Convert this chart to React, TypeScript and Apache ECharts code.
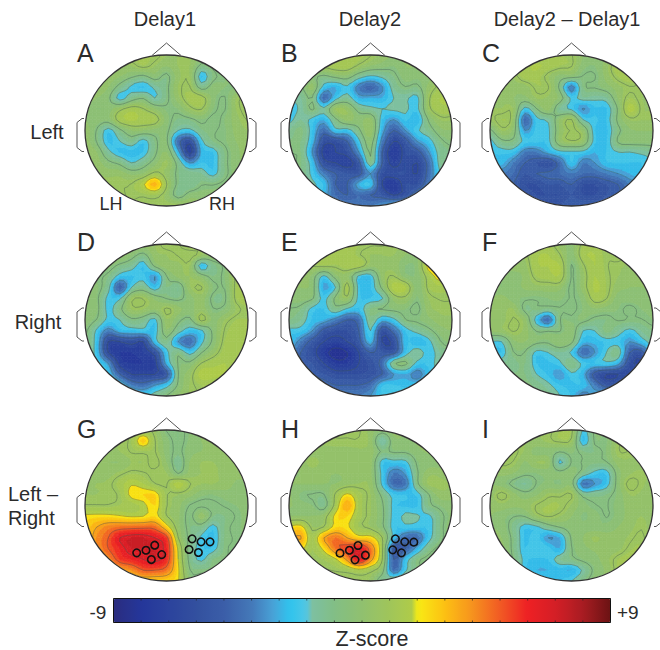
import React, { useEffect, useRef } from "react";
import * as echarts from "echarts";

const COLUMN_TITLES = ["Delay1", "Delay2", "Delay2 – Delay1"];
const ROW_TITLES = ["Left", "Right"];
const PANEL_LETTERS = ["A", "B", "C", "D", "E", "F", "G", "H", "I"];

const A_VALUES = [
[0,0,0,.5,1,1,1,.5,.5,.5,0,0,0,0,0],
[0,0,.3,.5,.5,1,.5,0,.5,.5,-1,-.5,0,0,0],
[.3,.3,.3,0,-.6,-1,-.3,-1,.3,.5,-2.6,-1,-.5,0,0],
[.3,.3,0,-1.2,-2.2,-2.6,-1.8,-1,.5,.8,-1.2,-.3,-.5,-.5,.5],
[.3,0,-.5,-2.4,-1.3,-.8,-2,-1,.3,1.2,1.2,-.3,-.8,.5,1],
[0,-.5,-.3,.5,1.2,.8,0,-.6,-.5,.5,.8,-.5,-.8,.5,1],
[0,-.2,-.3,1.2,1.6,1.3,1.2,-.3,-1.1,-1,-.5,-1,-.5,.3,.8],
[.3,-.8,-2.4,-1,0,0,-.3,-.5,-2,-2.3,-1.1,-.8,-.6,.2,.5],
[.3,-.8,-2.6,-2,-1.3,-2.4,-1,-.5,-4.5,-6,-2.3,-1,-.6,0,.3],
[.5,0,-1.7,-2.6,-2.7,-2.5,-1,0,-3,-7,-3,-2.5,-1,-.2,.3],
[.7,.3,-.5,-1,-2,-1.3,-.3,.6,-1.2,-3.5,-2.5,-2.6,-1,-.2,.2],
[.7,.5,.3,.3,-.2,0,1,.3,-1,-1.2,-1.5,-2.3,-1,-.3,0],
[.7,.7,.7,.7,.8,1.8,3.3,.8,-1,-1.5,-.8,-.8,-.5,-.3,0],
[.7,.7,.7,.7,.8,.8,1,.3,-1.2,-.3,-.3,-.3,-.3,0,0],
[.7,.7,.7,.7,.7,.7,.7,.7,.8,.5,.2,0,0,0,0],
];
const B_VALUES = [
[.5,.8,1,1.2,1.3,1.3,1.2,.8,.3,0,0,0,0,0,0],
[.3,.5,.8,1,1.3,1.3,.6,0,-.3,-.5,0,0,0,.3,.3],
[-1,-.6,-.5,-1,-.5,-.3,-1.5,-2.2,-1.8,-1,-.3,-.4,-.2,.6,.6],
[-1.5,-1,.2,-2.5,-3,-2.2,-4,-4.8,-3.6,-1.5,-.8,-1,.2,1,1],
[-2,-1.6,-.8,-4.6,-2.4,-1.5,-3,-3,-3,-2,-1.8,-2.3,.6,1.5,1.5],
[-2.4,-1.8,-.6,-1.7,.5,.3,-1.2,-1.7,-2,-1.8,-1.8,-2.3,.5,1.3,1.3],
[-2.3,-1.5,-2.3,-3,-1,.2,-.3,.2,-2.5,-3.5,-2.4,-3,-.6,.5,.5],
[-1.5,-.8,-2.5,-4.5,-2.4,-2.5,-1,.4,-3,-5,-3.5,-2.2,-1.3,-.2,0],
[-1,-1,-2.8,-6,-6,-5,-2.3,-.2,-4,-6.5,-5.5,-3.5,-2.5,-1,-.5],
[-.8,-1,-3.5,-7,-6.5,-6,-3.5,-.6,-5,-7.5,-6,-5.5,-3.5,-1.5,-1],
[-.6,-1,-2.6,-6,-6.5,-7,-5.5,-1.2,-5,-7,-6,-6.5,-4.5,-1.5,-1],
[-.6,-1,-2.3,-4,-5,-5.5,-5.5,-3.5,-6,-6,-6,-6.5,-4.5,-2,-1],
[-.6,-1,-1.8,-2.6,-5,-5,-3,-2.5,-6.5,-7.5,-6,-6,-4,-2.2,-1],
[-.8,-1.5,-2,-3,-4.5,-5,-4.5,-5,-5.5,-6.5,-5.8,-4,-2.5,-1.5,-1],
[-1,-1.5,-2,-3,-4,-4,-4,-4,-3.5,-2.6,-2.3,-2.3,-2,-1.5,-1],
];
const C_VALUES = [
[.5,.5,.8,1,1,1,1,.8,0,-.2,-.2,0,.5,.8,.8],
[.5,.5,.8,1.3,1.6,1.3,1,.8,-.3,-.5,.3,1.3,1.5,1,.8],
[.3,.3,.5,1.2,1.2,.5,-.3,-.4,-.8,-.8,.2,1,1.4,1,.6],
[.3,.3,.3,.2,.9,.8,-1,-4,-1,-.7,-.3,.3,.7,.6,.5],
[.3,.5,0,-.2,.5,.4,-.2,-2.2,-1.6,-1.8,-1.6,0,1,.5,.5],
[.5,.5,.5,-2.4,-.8,.2,-1.6,-2.2,-3.6,-2.6,-2.6,-.6,1.8,.6,.5],
[.5,1,.3,-4.6,-2.3,-1.8,0,.8,-2,-2.4,-2.5,-.5,.5,.5,.5],
[-1,.5,-.2,-3.5,-2.3,-2.2,0,.8,.2,-2.5,-2.7,-1,-.1,0,0],
[-2.3,-1,-1,-2.3,-2.4,-2.3,.1,.7,.2,-2.4,-2.6,-.6,-.3,-.3,-.3],
[-2.5,-2.4,-2.5,-4,-4,-3,-2.3,-2.2,-2.3,-3,-2.5,-2,-2,-1.8,-1.5],
[-3,-2.8,-4,-5,-5.5,-6,-4.5,-2.5,-4,-3.5,-2.6,-2.5,-2.5,-2.5,-2.2],
[-4,-4,-4.5,-5.5,-5,-4.8,-4.5,-4,-4.5,-4.5,-4,-3.5,-3,-2.6,-2.3],
[-4.5,-4.5,-5,-6,-6,-5.5,-5.5,-5,-6,-6,-5.5,-5,-4,-3.5,-3],
[-4.5,-5,-5,-5.5,-6,-6,-6,-5.5,-6,-6,-5.5,-5,-4.5,-4,-3.5],
[-4.5,-5,-5,-5,-5.5,-5.5,-5.5,-5,-5,-5,-5,-4.5,-4,-3.5,-3],
];
const D_VALUES = [
[.5,.5,.5,.5,.5,.3,.5,1,.8,.3,.3,.3,.3,.5,.5],
[.3,.3,.3,.3,-.3,-1,.3,.5,.8,1,.5,0,0,.5,.5],
[-.3,-.3,-.3,-1,-1.5,-2.5,-.5,.3,.3,.5,-2.6,-1.2,-.6,.8,.8],
[-.3,-.6,-1,-2.5,-2.6,-2.3,-3.5,-.8,.1,.5,-.2,-1,-.5,.9,1],
[-.3,-.4,-1.6,-5,-2,-1.3,-2.6,-1,-1.5,.4,.8,-.5,-.7,1,1.2],
[-.3,-.5,-2.3,-2.2,.5,.7,-.2,-.8,-1,-.3,.3,-1,-.9,1,1.2],
[-.2,-.4,-2.3,-1,.5,.5,0,.9,.2,-.2,.3,-.7,-.5,.5,1],
[-.2,-.8,-2.3,-2,-1,-1.3,-2.3,.4,-.5,-1,1,-.2,.5,1,1],
[-.5,-2.2,-4,-2.8,-2.6,-2.4,-2.5,-.1,-1.5,-2.6,-2.2,-.5,.8,1.2,1],
[-.8,-2.5,-6.5,-6.5,-6,-6.5,-2.6,-1.2,-3.5,-4.5,-2.3,-.5,1,1.3,1],
[-.9,-2.5,-6.5,-7.5,-7.5,-7,-6,-2.4,-1,-2.4,-.8,.3,1.2,1.4,1],
[-1,-2,-3.5,-7,-7.5,-7.5,-7,-3,-.7,-.5,.8,1.3,1.5,1.3,1],
[-.8,-1.2,-2.5,-5,-6.5,-6.5,-6.5,-5.5,-.8,.3,1.8,1.6,1.5,1,1],
[-.7,-.9,-1.5,-2.4,-4,-4.5,-3.5,-2.5,-.6,.5,1,1.2,1.2,1,1],
[-.5,-.7,-1,-1.5,-2,-2.3,-1.5,-.7,0,.5,.8,1,1,1,1],
];
const E_VALUES = [
[.8,1,1,1.2,1.3,1.3,1,.8,.8,.7,.5,.5,1.5,1.5,1.5],
[.6,.8,1,1.2,1.4,1.4,.8,.5,.5,.5,0,0,1.5,3,3],
[.3,.5,.8,1,.9,1.3,1.3,.2,.3,.3,-.5,-.3,2.5,3.5,2],
[0,.2,-.2,-2.3,-.3,.2,-2.3,-2.5,.2,.8,-.3,-.4,1.2,2.5,1.5],
[0,0,-.3,-3.2,-2,1.2,-2.4,-2.6,-.5,1.8,1.6,-.4,1,1.3,1],
[-.3,-.3,-.6,-2.3,-.5,.5,-2.4,-2.5,-2.1,.2,.5,-.6,.5,.8,.8],
[-.8,-1,-2.3,-2.5,-1.2,-2.2,-2.6,-1,-.7,-.5,-.5,-1,.3,.6,.6],
[-1,-1.5,-2.6,-3,-4,-5,-4.5,-1.2,-3,-2.3,-.8,-.6,-.2,.3,.4],
[-2.3,-2.4,-3.5,-5.5,-6,-6,-5,-2,-6,-4.5,-2.5,-1.7,-1,-.3,0],
[-2.5,-4,-5.5,-6.5,-7,-6.5,-5.5,-2.8,-6.5,-6,-2.6,-3,-2.3,-.8,-.4],
[-3,-5,-6,-7.5,-8.5,-8,-6.5,-5,-5.5,-5.5,-2.6,-1.5,-2.4,-1.5,-.8],
[-2.8,-5,-5.5,-6.5,-7.5,-7.5,-6.5,-5.8,-4.5,-1,-.5,-2.3,-2.4,-1.5,-1],
[-2.5,-3,-5,-5.5,-6,-6,-6,-5.8,-5,-3.5,-3,-4,-2.6,-1.6,-1],
[-2,-2.5,-3.5,-4.5,-5,-5,-5,-4.5,-2.6,-2.5,-2.6,-2.6,-2,-1.3,-1],
[-2,-2.3,-3,-3.5,-4,-4,-4,-3.5,-2.4,-2.3,-2.3,-2,-1.5,-1,-1],
];
const F_VALUES = [
[.3,.3,.6,.8,1,1,.3,-.2,1,1.3,.8,.8,.5,.3,.3],
[.2,.3,.5,.6,1.4,1.5,.8,-.3,1.3,1.5,.8,1,.6,.3,.2],
[0,.1,.2,.3,1.4,1.5,1.5,-.8,.6,1.5,.8,.6,.4,.2,.1],
[-.3,-.3,-.2,.1,1,1.2,1.4,-.8,.3,1.5,.9,.5,.3,.2,.1],
[-.3,-.5,-.3,.1,.3,.3,.2,-.9,.3,1.6,1,.2,0,0,0],
[0,.2,-.3,-.6,-.7,-.5,-.4,-.8,-.3,1.2,.8,-.3,-.2,-.2,-.2],
[.3,.3,.5,-1,-.9,-1.1,-.8,-.9,-.5,-.1,-.3,-.5,-1,-.5,-.4],
[.3,.3,.8,.2,-2.5,-4.5,-.8,-.6,-.5,-1,-1,-.7,-.8,-.8,-.5],
[.1,.3,.8,.3,-.8,-.8,-.8,-.2,-2,-2,-.8,-1.5,-2.3,-1.5,-1],
[-2,-2,-.2,0,-.5,-.6,0,-.5,-2.8,-2.8,-2.4,-2.4,-3.5,-2.6,-1.5],
[-2.3,-2.5,-.8,-.8,-2.3,-2,-1.5,-2.2,-4.5,-3.5,-2,-1.3,-5,-5.5,-2.5],
[-1.5,-1.5,-1.2,-1,-2.5,-2.6,-2.2,-1,-2.3,-2.5,-2.2,-3,-6,-6.5,-3.5],
[-1,-1,-1,-1,-2,-2.6,-3.5,-2.2,-3,-5.5,-6.5,-6.5,-6,-4,-2.5],
[-.8,-.8,-.8,-.8,-1.2,-1.8,-2.5,-2.6,-2.6,-4,-5.5,-5,-3.5,-2.5,-2],
[-.7,-.7,-.7,-.8,-1,-1.3,-2,-2.6,-4,-3,-2.5,-2.5,-2.3,-2,-1.5],
];
const G_VALUES = [
[0,0,0,.3,.5,.8,.5,-.8,-1,-.5,0,0,0,0,0],
[0,0,.3,.5,1,2.8,.8,-.3,-1,-.4,0,0,0,0,0],
[0,.2,.3,.5,.8,.9,.8,-.3,-.9,-.2,0,.2,0,.2,.2],
[0,0,0,0,.5,.5,1,0,-1.3,0,.5,.5,.3,.2,.2],
[.3,.3,.3,.6,.9,.8,.6,.5,-.8,.2,.5,.6,.3,.2,.2],
[.5,.5,.6,1.2,1.9,1.5,.8,.7,1.8,.8,.5,.5,.3,-.1,-.1],
[.5,.5,.6,.9,2.3,2.5,2.5,.8,.5,.2,-.4,-.5,-.3,-.1,0],
[.8,.8,.8,1,1.2,1.7,2.5,.8,.2,-.8,-.9,-.9,-.7,-.5,-.2],
[2.2,2.3,2.3,2.1,1.9,2,2.4,.8,.1,-1,.3,-1,-1,-.7,-.3],
[2.6,3.5,4.2,4.5,4.6,4.7,4.6,2.6,.2,-1,-1.2,-2.3,-1,-.6,-.4],
[2.6,4,5,6.5,7,7,6.5,5.5,.8,-1,-2.2,-2.7,-1,-.7,-.4],
[2.4,3.8,5,6,7,7,7,6,1.8,-1.2,-2.4,-2.4,-.9,-.7,-.5],
[2.3,3,4,5.5,6,6.5,6.8,5.8,2,-1.1,-2.2,-1,-.8,-.6,-.5],
[2,2.5,3,3.5,4,5,5,4.5,2.2,-.7,-.9,-.9,-.7,-.6,-.5],
[1.5,2,2.3,2.5,2.6,2.8,2.7,2.6,2.1,-.3,-.6,-.6,-.5,-.5,-.5],
];
const H_VALUES = [
[.3,.5,.6,.6,.8,.8,.8,.3,-.3,.2,.2,.2,.2,.2,.2],
[.2,.3,.5,.6,.7,.7,.7,.3,-2,-.2,-.2,.1,.5,.2,.2],
[0,0,.2,.3,.3,.3,.4,.3,-.9,-.6,-.6,-.2,.1,.1,.1],
[0,.2,.7,.3,.2,.2,.2,.2,-2.4,-2.4,-2.3,-.6,-.3,-.3,0],
[0,0,.2,.1,0,.1,.3,.1,-2.3,-4,-3.3,-.9,.3,.3,.1],
[0,0,0,0,0,.3,.5,.3,-2.2,-4.5,-4.2,-1,.6,.6,.5],
[.1,-.6,-.8,-.8,.9,2.2,1.2,.5,-1,-2.4,-2.5,-2.4,-.8,.3,.2],
[.1,-.3,-.5,-1.2,1.2,3.5,1.3,.5,-.6,-2.3,-2.6,-2.6,-1,-.5,-.2],
[0,0,0,.3,2.3,2.5,1.2,.5,-.5,-2.3,-1.8,-1.9,-2.2,-1,-.4],
[2.2,2.4,.5,.8,2.4,2.2,1,.5,-.5,-2.4,-2.3,-2.4,-2.4,-1,-.2],
[3,3.6,1.2,3.5,4.5,3.5,2.5,2.4,.8,-2.6,-4.5,-4.5,-2.4,-1,-.2],
[2,2.3,1,2.3,4.5,5.5,6.5,4.5,1,-5.5,-5,-3,-1.2,-.5,-.3],
[.9,.8,.8,1,1.8,3.8,6.5,4,.8,-5,-2.6,-1,-.5,-.4,-.3],
[.5,.5,.6,.7,.8,1,1.5,1,-.2,-4.5,-2.2,-1,-.6,-.3,-.2],
[.3,.3,.4,.4,.5,.5,.5,.4,-1.5,-.8,-.5,-.5,-.3,-.2,-.2],
];
const I_VALUES = [
[.2,.2,.3,.3,.4,.6,1,1,-2.2,-.5,-.5,.3,.5,.3,.2],
[.2,.3,.5,.5,.4,.6,.9,.6,-2.7,-.6,-.6,.6,.8,.5,.3],
[.2,.6,.9,.4,-.3,-.2,-.7,-.4,-1,-1,-.5,.7,.7,.3,.2],
[.2,.9,.7,-.1,.5,.3,-2.2,-.7,-.8,-.9,-.8,.2,.4,.2,.1],
[0,.2,0,-.5,-.5,-.3,-.4,-.2,-1.2,-2.3,-2.4,-.3,.4,.6,.3],
[0,-.3,-1,-1.6,-.7,-.4,-.6,-.3,-4.2,-3.5,-2.5,-.3,1,.6,.3],
[.2,1,.2,-.4,-.1,.6,.6,.8,-1.1,-1.2,-1,-.4,.5,.4,.2],
[.2,.3,.1,.2,.8,1,1,.4,-.3,-.7,-.8,-.3,.2,.2,.1],
[0,-.3,-.7,-.7,.4,.8,.5,0,-.6,-.3,-.8,-.3,.2,.5,.2],
[0,-.2,-1.2,-2.4,-2.2,-1.3,-.7,-.3,-.3,-.4,-.3,0,.3,.7,.2],
[.2,0,-1,-2.6,-2.2,-3.5,-3,-.6,0,.6,.2,.2,.6,.9,.2],
[.2,.2,-1,-2.5,-2,-2.3,-3,-.8,-.2,.1,.2,.3,.9,1,.2],
[.3,.2,-.8,-2.3,-2.6,-2.5,-1.5,-1,-.5,-.2,.3,1,1.2,1,.2],
[.3,.3,-.5,-2.4,-3,-3,-2.8,-3,-1.8,-.5,.1,1,1.2,1,.2],
[.3,.3,-.3,-1.5,-2.4,-2.5,-2.5,-2,-1,-.3,.2,.8,1,.8,.2],
];
const PANEL_VALUES = [A_VALUES, B_VALUES, C_VALUES, D_VALUES, E_VALUES, F_VALUES, G_VALUES, H_VALUES, I_VALUES];

// electrode positions, in grid-index units of the panel's axes
const G_ELECTRODES = [[4.44,11.39],[5.24,11.15],[5.99,10.68],[6.59,11.55],[5.7,12.01],[9.2,10.09],[9.97,10.37],[10.74,10.37],[8.94,11.08],[9.74,11.36]];
const H_ELECTRODES = [[4.38,11.42],[5.19,11.15],[5.93,10.71],[6.56,11.61],[5.67,12.04],[9.14,10.09],[9.94,10.37],[10.72,10.4],[8.91,11.11],[9.66,11.39]];

const COLOR_STOPS: [number, string][] = [
  [-9,"#2b2d7e"],[-8,"#24369a"],[-6,"#33509f"],[-5,"#3b5ea8"],[-4,"#4478b8"],[-3.2,"#48a3d8"],[-2.6,"#2fc4ee"],[-2,"#52c6e4"],
  [-2,"#7cc0a8"],[-1,"#82be85"],[0,"#90c06f"],[1,"#a0c55a"],[2,"#b2cd45"],
  [2,"#f8ec14"],[3,"#fcc013"],[4,"#f6921e"],[5,"#f15a24"],[6,"#ee2024"],[7,"#d41f26"],[8,"#a81c22"],[9,"#6b1313"],
];
const CONTOUR_LEVELS = [-8,-6.5,-5,-3.5,-2,-.75,.75,2,3.5,5,6.5,8];
const CELL_DIVISIONS = 3;

const LAYOUT_X = [[85,248],[289,452],[490,653]];
const LAYOUT_Y = [[55,206],[244,396],[430,581]];
const BAR = { x: 113.5, y: 598.5, width: 497, height: 24 };

function rgb(h: string) { return [1,3,5].map((i) => parseInt(h.slice(i,i+2),16)); }
function colorAt(v: number) {
  const z = Math.max(-9, Math.min(9, v));
  for (let i = 0; i < COLOR_STOPS.length - 1; i++) {
    const [a, ca] = COLOR_STOPS[i], [b, cb] = COLOR_STOPS[i+1];
    if (b > a && z >= a && z <= b) {
      const t = (z-a)/(b-a), p = rgb(ca), q = rgb(cb);
      return `rgb(${p.map((x,k)=>Math.round(x+(q[k]-x)*t)).join(",")})`;
    }
  }
  return COLOR_STOPS[0][1];
}

type P = { x: number; y: number; v: number };
function clip(poly: P[], level: number, above: boolean) {
  const out: P[] = [];
  for (let k = 0; k < poly.length; k++) {
    const c = poly[k], n = poly[(k+1)%poly.length];
    const ci = above ? c.v >= level : c.v <= level;
    const ni = above ? n.v >= level : n.v <= level;
    if (ci) out.push(c);
    if (ci !== ni) {
      const t = (level-c.v)/(n.v-c.v);
      out.push({ x: c.x+(n.x-c.x)*t, y: c.y+(n.y-c.y)*t, v: level });
    }
  }
  return out;
}

// smooth surface through the read grid values (how the contour plot is drawn)
function cr(a: number, b: number, c: number, d: number, t: number) {
  return b + .5*t*(c-a + t*(2*a-5*b+4*c-d + t*(3*(b-c)+d-a)));
}
function surface(values: number[][], x: number, y: number) {
  const n = values.length-1, m = values[0].length-1;
  const j = Math.min(Math.floor(y), n-1), i = Math.min(Math.floor(x), m-1);
  const row = (r: number) => {
    const R = values[Math.max(0, Math.min(n, r))];
    return cr(R[Math.max(0,i-1)], R[i], R[i+1], R[Math.min(m,i+2)], x-i);
  };
  return cr(row(j-1), row(j), row(j+1), row(j+2), y-j);
}

function drawQuad(quad: P[], children: any[]) {
  const vs = quad.map((q) => q.v);
  const lo = Math.min(...vs), hi = Math.max(...vs);
  for (let a = Math.floor(lo*2)/2; a <= hi; a += .5) {
    const b = a + .5;
    let poly = clip(quad, a, true);
    if (poly.length) poly = clip(poly, b, false);
    if (poly.length < 3) continue;
    const fill = colorAt(a + .25);
    children.push({ type: "polygon", shape: { points: poly.map((p) => [p.x,p.y]) }, style: { fill, stroke: fill, lineWidth: .7 } });
  }
}
function drawLines(quad: P[], children: any[]) {
  const vs = quad.map((q) => q.v);
  const lo = Math.min(...vs), hi = Math.max(...vs);
  for (const L of CONTOUR_LEVELS) {
    if (L < lo || L > hi) continue;
    const pts: number[][] = [];
    for (let k = 0; k < 4; k++) {
      const c = quad[k], n = quad[(k+1)%4];
      if ((c.v >= L) !== (n.v >= L)) {
        const t = (L-c.v)/(n.v-c.v);
        pts.push([c.x+(n.x-c.x)*t, c.y+(n.y-c.y)*t]);
      }
    }
    for (let k = 0; k+1 < pts.length; k += 2) {
      children.push({ type: "polyline", shape: { points: [pts[k], pts[k+1]] }, style: { fill: null, stroke: "rgba(60,85,80,.55)", lineWidth: .7 }, z2: 5 });
    }
  }
}

function makeRenderer(values: number[][]) {
  return (_: any, api: any) => {
    const i = api.value(0), j = api.value(1), D = CELL_DIVISIONS;
    const verts: P[][] = [];
    let lo = Infinity, hi = -Infinity;
    for (let t = 0; t <= D; t++) {
      const row: P[] = [];
      for (let s = 0; s <= D; s++) {
        const c = api.coord([i+s/D, j+t/D]);
        const v = surface(values, i+s/D, j+t/D);
        lo = Math.min(lo, v); hi = Math.max(hi, v);
        row.push({ x: c[0], y: c[1], v });
      }
      verts.push(row);
    }
    const children: any[] = [];
    if (Math.floor(lo*2) === Math.floor(hi*2)) {
      drawQuad([verts[0][0], verts[0][D], verts[D][D], verts[D][0]], children);
    } else {
      for (let t = 0; t < D; t++) for (let s = 0; s < D; s++)
        drawQuad([verts[t][s], verts[t][s+1], verts[t+1][s+1], verts[t+1][s]], children);
    }
    for (let t = 0; t < D; t++) for (let s = 0; s < D; s++)
      drawLines([verts[t][s], verts[t][s+1], verts[t+1][s+1], verts[t+1][s]], children);
    return { type: "group", children };
  };
}

function cellsOf(values: number[][]) {
  const out: number[][] = [];
  for (let j = 0; j < values.length-1; j++)
    for (let i = 0; i < values[j].length-1; i++)
      out.push([i, j, values[j][i]]);
  return out;
}

echarts.graphic.registerShape("headMask", echarts.graphic.extendPath(
  "M-101.5 -102L101.5 -102L101.5 102L-101.5 102ZM-100 0A100 100 0 1 0 100 0A100 100 0 1 0 -100 0Z", {}));

function txt(text: string, x: number, y: number, size: number, align = "center") {
  return { type: "text", z: 30, silent: true, style: { text, x, y, fill: "#2b2b2b", fontFamily: '"Liberation Sans", Arimo, sans-serif', fontSize: size, textAlign: align, textVerticalAlign: "middle" } };
}

function buildOption() {
  const grids: any[] = [], xAxes: any[] = [], yAxes: any[] = [], series: any[] = [], graphics: any[] = [];
  PANEL_VALUES.forEach((values, idx) => {
    const [x0, x1] = LAYOUT_X[idx % 3], [y0, y1] = LAYOUT_Y[Math.floor(idx/3)];
    const cx = (x0+x1)/2, cy = (y0+y1)/2, rx = (x1-x0)/2, ry = (y1-y0)/2;
    grids.push({ left: x0, top: y0, width: x1-x0, height: y1-y0, show: false });
    xAxes.push({ type: "value", gridIndex: idx, min: 0, max: 14, show: false });
    yAxes.push({ type: "value", gridIndex: idx, min: 0, max: 14, inverse: true, show: false });
    series.push({ type: "custom", xAxisIndex: idx, yAxisIndex: idx, silent: true, clip: false, renderItem: makeRenderer(values), encode: { x: 0, y: 1 }, data: cellsOf(values) });
    const line = { fill: "none", stroke: "#555", lineWidth: 1 };
    const earShape = (x: number) => ({ x, y: cy-12, width: 14, height: 33, r: 6 });
    graphics.push(
      { type: "headMask", x: cx, y: cy, scaleX: rx/100, scaleY: ry/100, z: 10, silent: true, style: { fill: "#fff" } },
      { type: "polyline", z: 11, silent: true, shape: { points: [[x0-1,cy-12],[x0-3,cy-12],[x0-8,cy-8],[x0-8,cy+17],[x0-3,cy+21],[x0-1,cy+21]] }, style: line },
      { type: "polyline", z: 11, silent: true, shape: { points: [[x1+1,cy-12],[x1+3,cy-12],[x1+8,cy-8],[x1+8,cy+17],[x1+3,cy+21],[x1+1,cy+21]] }, style: line },
      { type: "ellipse", z: 11, silent: true, shape: { cx, cy, rx, ry }, style: { fill: "none", stroke: "#333", lineWidth: 1.3 } },
      { type: "polyline", z: 11, silent: true, shape: { points: [[cx-14.5,y0+.5],[cx,y0-12],[cx+14.5,y0+.5]] }, style: line },
      txt(PANEL_LETTERS[idx], x0-8, y0-2 + (idx >= 6 ? 1 : 0), 25, "left"),
    );
  });
  [G_ELECTRODES, H_ELECTRODES].forEach((pts, k) => {
    series.push({ type: "scatter", xAxisIndex: 6+k, yAxisIndex: 6+k, silent: true, symbol: "circle", symbolSize: 7.5, z: 5,
      itemStyle: { color: "rgba(0,0,0,0)", borderColor: "#111", borderWidth: 1.6, opacity: 1 }, data: pts });
  });
  COLUMN_TITLES.forEach((t, i) => graphics.push(txt(t, [165,370,567][i], 19, 20)));
  ROW_TITLES.forEach((t, i) => graphics.push(txt(t, [47,38][i], [132,322][i], 20)));
  graphics.push(txt("Left –", 8, 494, 20, "left"), txt("Right", 8, 518, 20, "left"));
  graphics.push(txt("LH", 111, 204, 18), txt("RH", 222, 204, 18));
  graphics.push(txt("-9", 98, 612, 19), txt("+9", 617, 612, 19, "left"), txt("Z-score", 372, 639, 21.5));
  graphics.push({ type: "rect", z: 12, silent: true, shape: BAR, style: { fill: "none", stroke: "#111", lineWidth: 1 } });
  for (let z = -9; z <= 9; z++) {
    const x = BAR.x + (z+9)/18*BAR.width;
    graphics.push(
      { type: "line", z: 12, silent: true, shape: { x1: x, y1: BAR.y, x2: x, y2: BAR.y+2 }, style: { stroke: "#222", lineWidth: .7 } },
      { type: "line", z: 12, silent: true, shape: { x1: x, y1: BAR.y+BAR.height-2, x2: x, y2: BAR.y+BAR.height }, style: { stroke: "#222", lineWidth: .7 } },
    );
  }
  const samples: string[] = [];
  for (let k = 0; k <= 144; k++) samples.push(colorAt(-9 + k/8 + (k === 56 ? -.01 : k === 88 ? .01 : 0)));
  return {
    animation: false,
    backgroundColor: "#fff",
    grid: grids, xAxis: xAxes, yAxis: yAxes, series,
    graphic: { elements: graphics },
    visualMap: { type: "continuous", seriesIndex: 0, dimension: 2, min: -9, max: 9, orient: "horizontal", left: BAR.x, top: BAR.y, itemWidth: BAR.height, itemHeight: BAR.width,
      calculable: false, hoverLink: false, showLabel: false, text: null, padding: 0, inRange: { color: samples } },
  };
}

export default function App() {
  const ref = useRef<HTMLDivElement>(null);
  useEffect(() => {
    const chart = echarts.init(ref.current!, undefined, { renderer: "svg" });
    chart.setOption(buildOption() as any);
    return () => chart.dispose();
  }, []);
  return <div ref={ref} style={{ position: "absolute", left: 0, top: 0, width: 660, height: 650 }} />;
}
